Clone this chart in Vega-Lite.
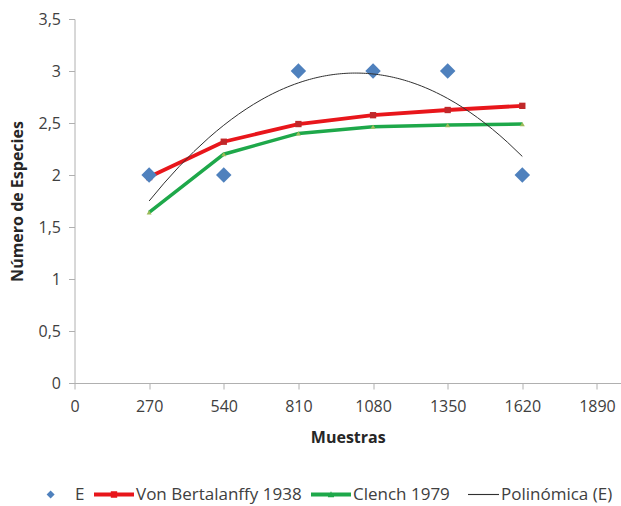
{
  "$schema": "https://vega.github.io/schema/vega-lite/v6.json",
  "autosize": "none",
  "width": 546.5,
  "height": 364,
  "padding": {"left": 74.5, "top": 19, "right": 0, "bottom": 123},
  "background": "white",
  "config": {
    "view": {"stroke": null},
    "font": "Open Sans",
    "axis": {
      "grid": false,
      "domainColor": "#b0b0b0",
      "tickColor": "#b0b0b0",
      "labelFont": "Open Sans",
      "labelFontSize": 16,
      "labelColor": "#404040",
      "titleFont": "Open Sans",
      "titleFontSize": 16,
      "titleFontWeight": "bold",
      "titleColor": "#262626"
    }
  },
  "datasets": {
    "e": [
      {"x": 270, "y": 2, "series": "E"},
      {"x": 540, "y": 2, "series": "E"},
      {"x": 810, "y": 3, "series": "E"},
      {"x": 1080, "y": 3, "series": "E"},
      {"x": 1350, "y": 3, "series": "E"},
      {"x": 1620, "y": 2, "series": "E"}
    ],
    "vb": [
      {"x": 270, "y": 1.98},
      {"x": 540, "y": 2.32},
      {"x": 810, "y": 2.49},
      {"x": 1080, "y": 2.575},
      {"x": 1350, "y": 2.625},
      {"x": 1620, "y": 2.665}
    ],
    "cl": [
      {"x": 270, "y": 1.64},
      {"x": 540, "y": 2.2},
      {"x": 810, "y": 2.4},
      {"x": 1080, "y": 2.465},
      {"x": 1350, "y": 2.48},
      {"x": 1620, "y": 2.49}
    ]
  },
  "encoding": {
    "x": {
      "field": "x", "type": "quantitative",
      "scale": {"domain": [0, 1977], "nice": false, "zero": false},
      "axis": {
        "title": "Muestras",
        "values": [0, 270, 540, 810, 1080, 1350, 1620, 1890],
        "format": "d",
        "tickSize": 6,
        "labelPadding": 9,
        "titlePadding": 15,
        "labelFlush": false,
        "labelOverlap": false
      }
    },
    "y": {
      "field": "y", "type": "quantitative",
      "scale": {"domain": [0, 3.5], "nice": false},
      "axis": {
        "title": "Número de Especies",
        "values": [0, 0.5, 1, 1.5, 2, 2.5, 3, 3.5],
        "labelExpr": "replace(format(datum.value, '~g'), '.', ',')",
        "tickSize": 6,
        "labelPadding": 8,
        "titlePadding": 13,
        "labelFlush": false,
        "labelOverlap": false
      }
    }
  },
  "layer": [
    {
      "data": {"name": "cl"},
      "mark": {"type": "line", "color": "#1ea84a", "strokeWidth": 3.5}
    },
    {
      "data": {"name": "cl"},
      "mark": {"type": "point", "shape": "triangle-up", "filled": true, "color": "#9bbb59", "size": 25, "opacity": 1}
    },
    {
      "data": {"name": "vb"},
      "mark": {"type": "line", "color": "#e8161b", "strokeWidth": 3.8}
    },
    {
      "data": {"name": "vb"},
      "mark": {"type": "point", "shape": "square", "filled": true, "color": "#c0282a", "size": 40, "opacity": 1}
    },
    {
      "data": {"name": "e"},
      "mark": {"type": "point", "shape": "diamond", "filled": true, "color": "#4f81bd", "size": 240, "opacity": 1}
    },
    {
      "data": {"name": "e"},
      "transform": [
        {"regression": "y", "on": "x", "method": "poly", "order": 2, "extent": [270, 1620]}
      ],
      "mark": {"type": "line", "color": "#303030", "strokeWidth": 1}
    },
    {
      "data": {"name": "e"},
      "mark": {"type": "point", "filled": true, "opacity": 0},
      "encoding": {
        "color": {
          "field": "series", "type": "nominal",
          "scale": {
            "domain": ["E", "Von Bertalanffy 1938", "Clench 1979", "Polinómica (E)"],
            "range": ["#4f81bd", "#e8161b", "#1ea84a", "#303030"]
          },
          "legend": {
            "title": null,
            "orient": "none",
            "direction": "horizontal",
            "columns": 4,
            "legendX": -41.5,
            "legendY": 455.5,
            "padding": 0,
            "symbolSize": 1600,
            "symbolOpacity": 1,
            "symbolStrokeWidth": 0,
            "labelFont": "Open Sans",
            "labelFontSize": 17,
            "labelColor": "#404040",
            "labelOffset": 2,
            "columnPadding": 9,
            "labelLimit": 300
          }
        },
        "shape": {
          "field": "series", "type": "nominal",
          "scale": {
            "domain": ["E", "Von Bertalanffy 1938", "Clench 1979", "Polinómica (E)"],
            "range": [
              "M-0.12,-0.2L0.08,0L-0.12,0.2L-0.32,0Z",
              "M-1,-0.1H1V0.1H-1Z M-0.16,-0.16H0.16V0.16H-0.16Z",
              "M-1,-0.1H1V0.1H-1Z M-0.16,0.14L0,-0.16L0.16,0.14Z",
              "M-0.55,-0.028H1V0.028H-0.55Z"
            ]
          },
          "legend": {
            "title": null,
            "orient": "none",
            "direction": "horizontal",
            "columns": 4,
            "legendX": -41.5,
            "legendY": 455.5,
            "padding": 0,
            "symbolSize": 1600,
            "symbolOpacity": 1,
            "symbolStrokeWidth": 0,
            "labelFont": "Open Sans",
            "labelFontSize": 17,
            "labelColor": "#404040",
            "labelOffset": 2,
            "columnPadding": 9,
            "labelLimit": 300
          }
        }
      }
    }
  ]
}
